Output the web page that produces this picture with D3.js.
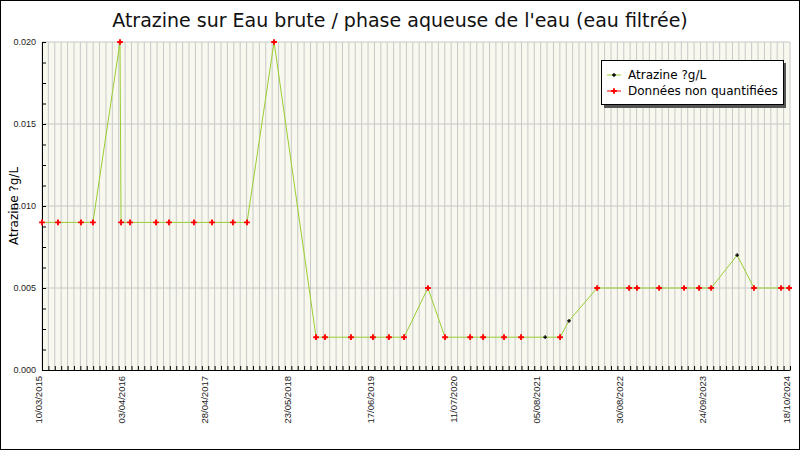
<!DOCTYPE html>
<html><head><meta charset="utf-8">
<script src="https://cdn.jsdelivr.net/npm/d3@7"></script>
<style>body{margin:0;background:#fff}svg{font-family:"DejaVu Sans",sans-serif}</style>
</head><body>
<script>
// Sample dates, values, and whether the value was quantified
const dates = ["2015-03-10","2015-05-24","2015-09-09","2015-11-04","2016-03-10","2016-03-15","2016-04-26","2016-08-26","2016-10-26","2017-02-20","2017-05-16","2017-08-22","2017-10-27","2018-03-03","2018-09-16","2018-10-28","2019-02-27","2019-06-10","2019-08-24","2019-11-03","2020-02-23","2020-05-13","2020-09-08","2020-11-08","2021-02-14","2021-05-05","2021-08-26","2021-11-04","2021-12-16","2022-04-27","2022-09-24","2022-10-31","2023-02-12","2023-06-09","2023-08-18","2023-10-14","2024-02-13","2024-05-02","2024-09-06","2024-10-14"];
const values = [0.009,0.009,0.009,0.009,0.020,0.009,0.009,0.009,0.009,0.009,0.009,0.009,0.009,0.020,0.002,0.002,0.002,0.002,0.002,0.002,0.005,0.002,0.002,0.002,0.002,0.002,0.002,0.002,0.003,0.005,0.005,0.005,0.005,0.005,0.005,0.005,0.007,0.005,0.005,0.005];
const quantified = [0,0,0,0,0,0,0,0,0,0,0,0,0,0,0,0,0,0,0,0,0,0,0,0,0,0,1,0,1,0,0,0,0,0,0,0,1,0,0,0];
const tickLabels = ["10/03/2015","03/04/2016","28/04/2017","23/05/2018","17/06/2019","11/07/2020","05/08/2021","30/08/2022","24/09/2023","18/10/2024"];
const yTicks = [0,0.005,0.010,0.015,0.020];

const width = 800, height = 450;
const margin = {top: 42, right: 10, bottom: 80, left: 42};
const parse = d3.timeParse("%Y-%m-%d"), parseFr = d3.timeParse("%d/%m/%Y");
const data = dates.map((d, i) => ({date: parse(d), value: values[i], q: quantified[i]}));
const tickDates = tickLabels.map(parseFr);

const svg = d3.select("body").append("svg").attr("width", width).attr("height", height);
svg.append("rect").attr("x", 0.5).attr("y", 0.5).attr("width", width - 1).attr("height", height - 1)
  .attr("fill", "#fff").attr("stroke", "#000");

const x = d3.scaleTime().domain([tickDates[0], tickDates[tickDates.length - 1]])
  .range([margin.left, width - margin.right]);
const y = d3.scaleLinear().domain([0, 0.02]).range([height - margin.bottom, margin.top]);

svg.append("rect").attr("x", margin.left).attr("y", margin.top)
  .attr("width", x.range()[1] - margin.left).attr("height", y(0) - margin.top).attr("fill", "#f8f8ef");

// minor ticks: 13 per 390-day interval
const minor = [];
for (let i = 0; i < tickDates.length - 1; i++)
  for (let k = 0; k < 13; k++) minor.push(d3.timeDay.offset(tickDates[i], k * 30));
minor.push(tickDates[tickDates.length - 1]);

svg.append("g").selectAll("line").data(minor).join("line")
  .attr("x1", d => x(d)).attr("x2", d => x(d)).attr("y1", margin.top).attr("y2", y(0))
  .attr("stroke", "#c8c8c8").attr("stroke-width", 1);
svg.append("g").selectAll("line").data(yTicks.slice(1)).join("line")
  .attr("x1", margin.left).attr("x2", x.range()[1]).attr("y1", d => y(d)).attr("y2", d => y(d))
  .attr("stroke", "#c8c8c8");

// x axis
const xAxis = svg.append("g").attr("transform", `translate(0,${y(0)})`)
  .call(d3.axisBottom(x).tickValues(minor).tickSize(-4).tickFormat(""));
xAxis.select(".domain").remove();
svg.append("g").attr("transform", `translate(0,${y(0)})`)
  .call(d3.axisBottom(x).tickValues(tickDates).tickSize(0).tickFormat((d, i) => tickLabels[i]))
  .call(g => g.select(".domain").attr("stroke", "#000"))
  .selectAll("text").attr("transform", "rotate(-90)").attr("text-anchor", "end")
  .attr("x", -6).attr("y", -4).attr("dy", "0.32em").attr("font-size", 9.5).attr("fill", "#222");

// y axis
svg.append("g").attr("transform", `translate(${margin.left},0)`)
  .call(d3.axisLeft(y).tickValues(d3.range(0, 0.0201, 0.00125)).tickSize(-4).tickFormat(""))
  .call(g => g.select(".domain").remove());
svg.append("g").attr("transform", `translate(${margin.left},0)`)
  .call(d3.axisLeft(y).tickValues(yTicks).tickSize(0).tickPadding(6).tickFormat(d3.format(".3f")))
  .call(g => g.selectAll("text").attr("font-size", 9).attr("fill", "#222"));

// line
svg.append("path").datum(data)
  .attr("d", d3.line().x(d => x(d.date)).y(d => y(d.value)))
  .attr("fill", "none").attr("stroke", "#9acd32").attr("stroke-width", 1);

const plus = d3.symbol().type(d3.symbolCross);
svg.append("g").selectAll("path").data(data).join("path")
  .attr("transform", d => `translate(${x(d.date)},${y(d.value)})`)
  .attr("d", d => plus.size(d.q ? 8 : 18)())
  .attr("fill", d => d.q ? "#000" : "#ff0000");

// title and axis label
svg.append("text").attr("x", width / 2).attr("y", 27).attr("text-anchor", "middle")
  .attr("font-size", 19).attr("fill", "#111").text("Atrazine sur Eau brute / phase aqueuse de l'eau (eau filtrée)");
svg.append("text").attr("transform", `translate(18,206) rotate(-90)`)
  .attr("text-anchor", "middle").attr("font-size", 12).text("Atrazine ?g/L");

// legend
const lg = svg.append("g").attr("transform", "translate(601,60)");
lg.append("rect").attr("x", 3).attr("y", 3).attr("width", 182).attr("height", 45).attr("fill", "#555");
lg.append("rect").attr("x", 0.5).attr("y", 0.5).attr("width", 182).attr("height", 44).attr("fill", "#fff").attr("stroke", "#000");
[["Atrazine ?g/L", 1], ["Données non quantifiées", 0]].forEach(([t, q], i) => {
  const yy = 15 + i * 16;
  lg.append("line").attr("x1", 6).attr("x2", 20).attr("y1", yy).attr("y2", yy).attr("stroke", q ? "#9acd32" : "#ff0000");
  lg.append("path").attr("transform", `translate(13,${yy})`).attr("d", plus.size(q ? 8 : 18)()).attr("fill", q ? "#000" : "#ff0000");
  lg.append("text").attr("x", 27).attr("y", yy + 4).attr("font-size", 12).text(t);
});
</script>
</body></html>
